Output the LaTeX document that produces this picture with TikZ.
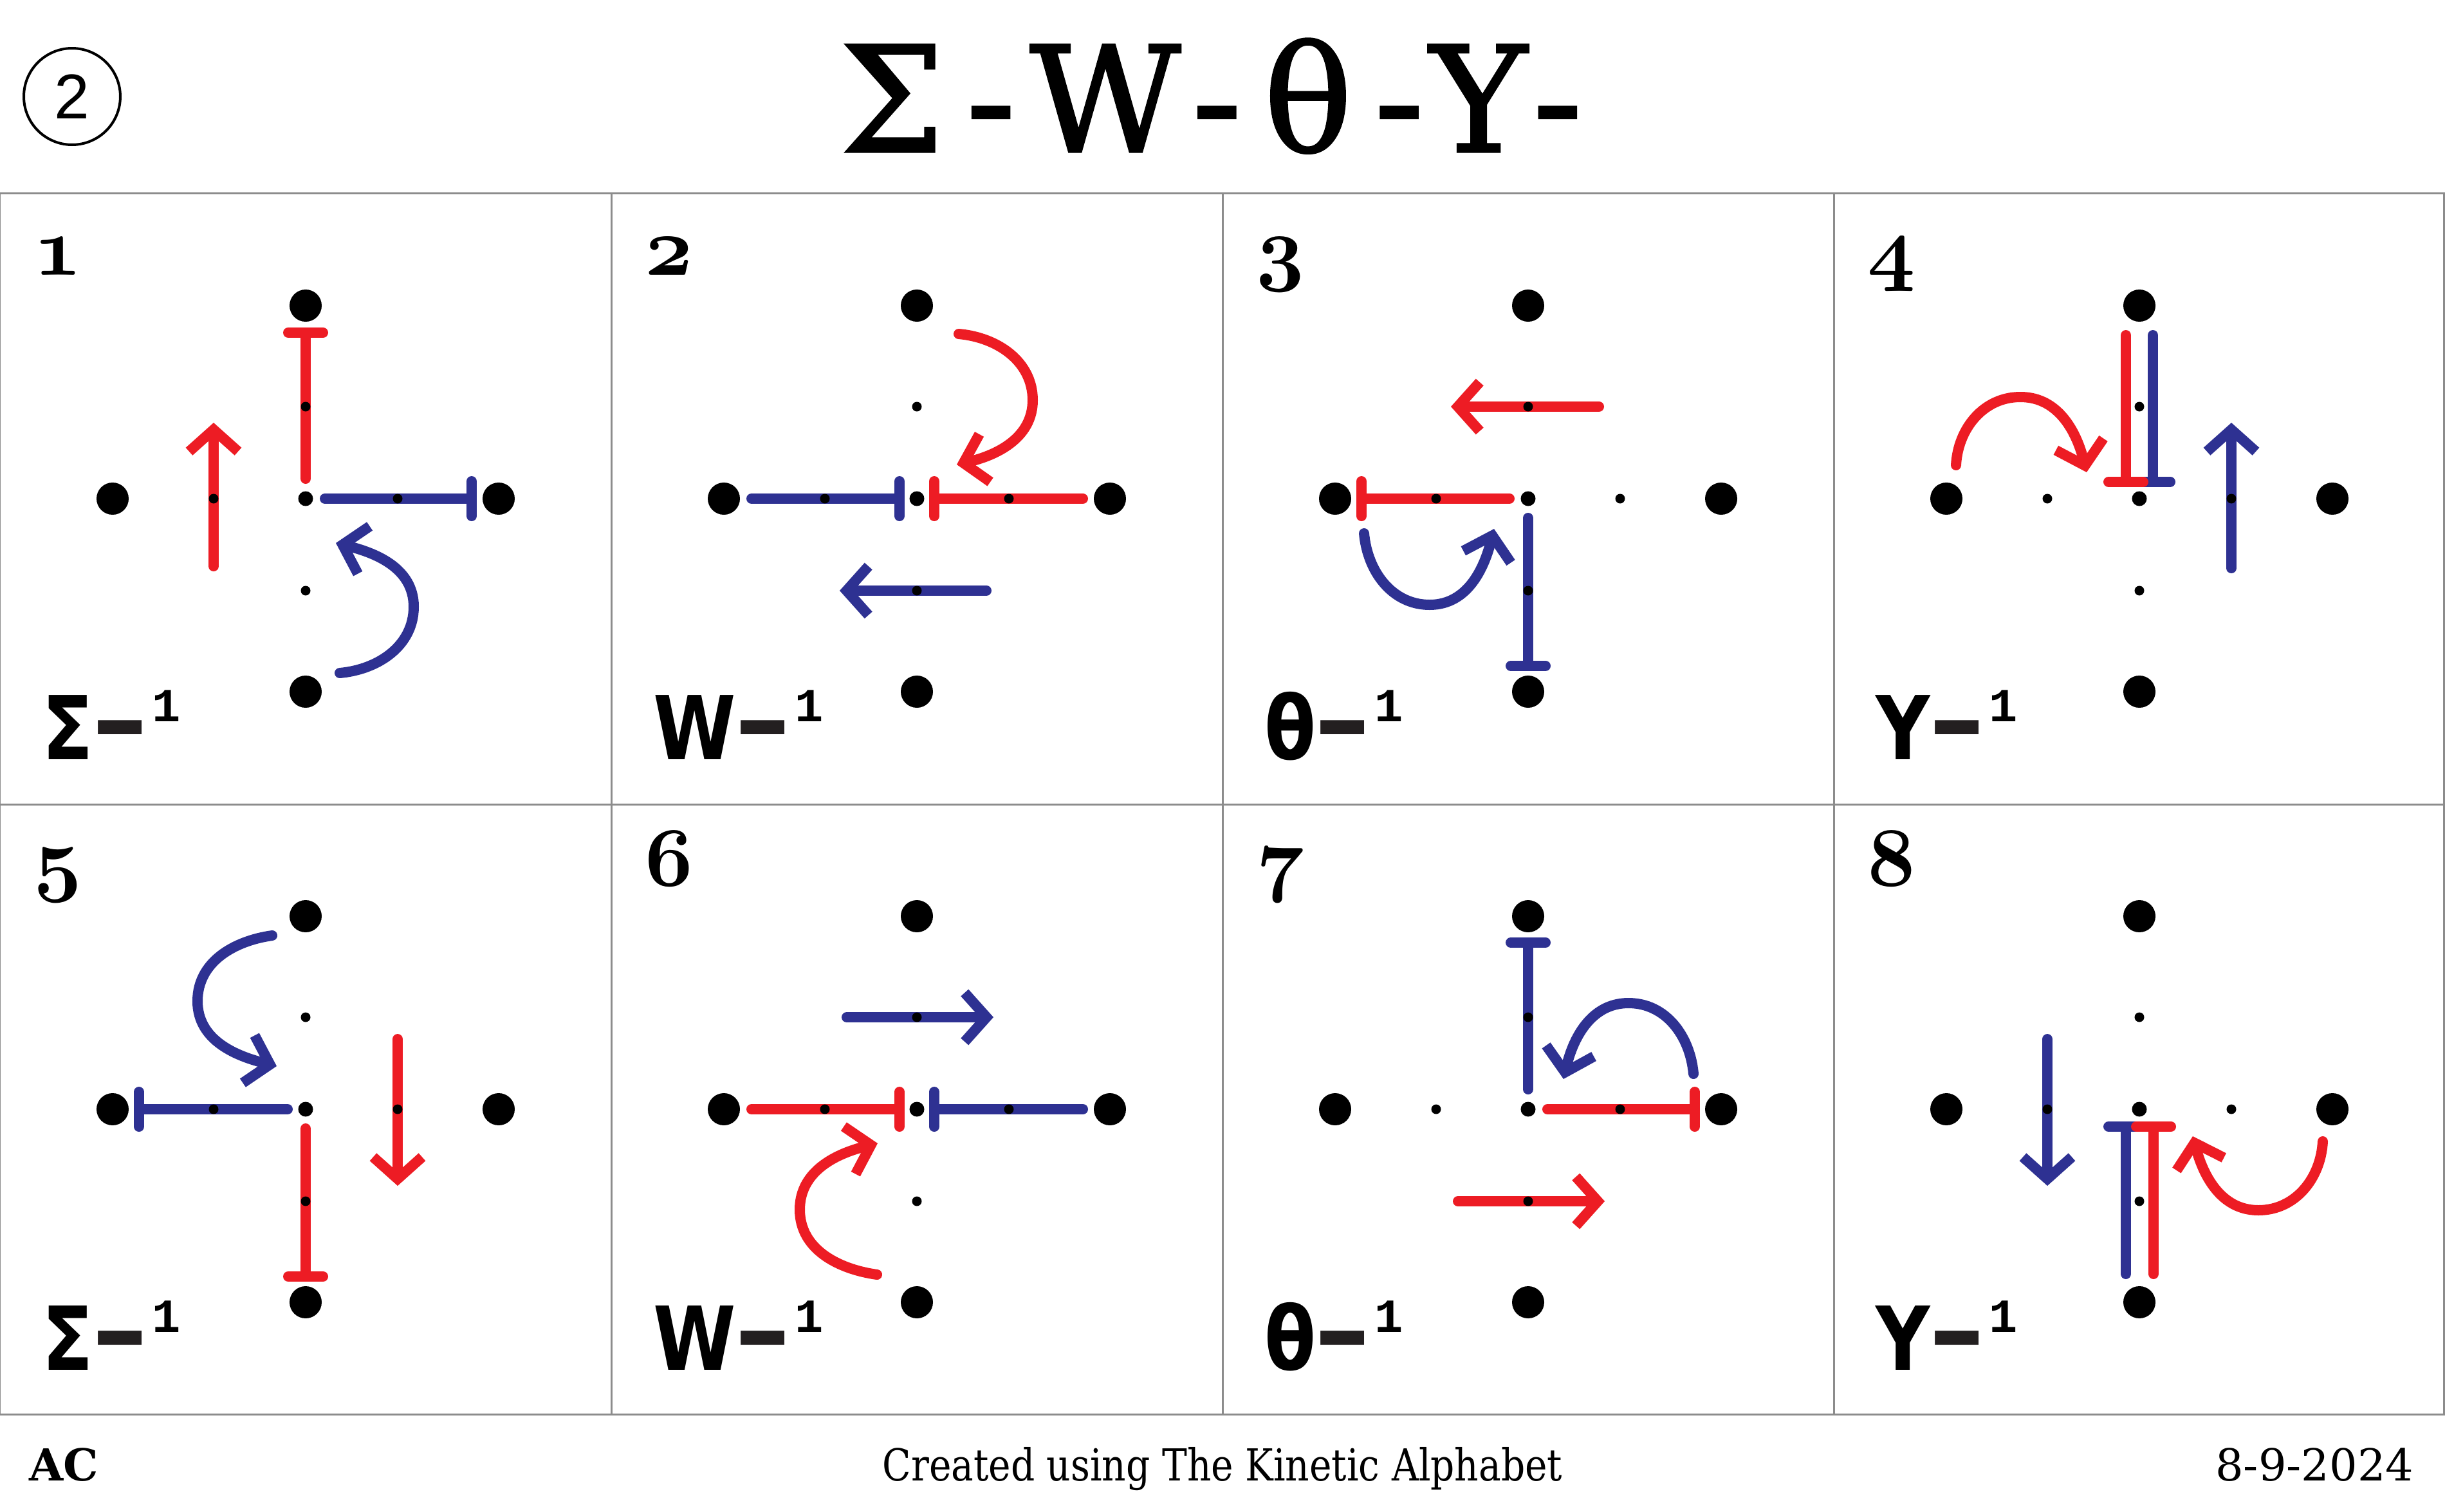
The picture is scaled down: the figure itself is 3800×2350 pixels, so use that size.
\RequirePackage{fix-cm}
\documentclass[tikz,border=0pt]{standalone}
\usepackage{fontspec}
\usetikzlibrary{arrows.meta}
\newfontfamily\titlefont{DejaVu Serif}[LetterSpace=15, FakeBold=1.5]
\newfontfamily\footfont{DejaVu Serif}
\newfontfamily\creditfont{DejaVu Serif}[FakeStretch=0.85]
\newfontfamily\glyphfont{DejaVu Sans}[FakeStretch=0.85]
\newfontfamily\dashfont{Liberation Sans}
\newfontfamily\ringfont{Liberation Sans}
\newfontfamily\expfont{Liberation Mono}
\definecolor{kred}{HTML}{ED1C24}
\definecolor{kblue}{HTML}{2E3192}
\definecolor{dashgray}{HTML}{231F20}
\definecolor{gridgray}{HTML}{8C8C8C}
\newcommand{\invlabel}[1]{{\glyphfont\bfseries\fontsize{39}{39}\selectfont #1}\kern0.3mm\raisebox{-0.9mm}{\scalebox{1}[1.6]{\dashfont\bfseries\fontsize{39}{39}\selectfont\textcolor{dashgray}{–}}}\kern1.2mm\raisebox{5.9mm}{\expfont\bfseries\fontsize{21}{21}\selectfont 1}}
\newcommand{\panelnum}[1]{{\fontsize{37}{37}\selectfont\boldmath$\mathnormal{#1}$}}
\newcommand{\dotgrid}[1]{%
  \node[bigdot] (#1-n) at (0,300) {};
  \node[bigdot] (#1-s) at (0,-300) {};
  \node[bigdot] (#1-e) at (300,0) {};
  \node[bigdot] (#1-w) at (-300,0) {};
  \node[ctrdot] (#1-c) at (0,0) {};
  \node[middot] (#1-nm) at (0,143) {};
  \node[middot] (#1-sm) at (0,-143) {};
  \node[middot] (#1-em) at (143,0) {};
  \node[middot] (#1-wm) at (-143,0) {};
}
\tikzset{
  bigdot/.style={circle, fill=black, inner sep=0pt, minimum size=5mm},
  ctrdot/.style={circle, fill=black, inner sep=0pt, minimum size=2.3mm},
  middot/.style={circle, fill=black, inner sep=0pt, minimum size=1.5mm},
  stroke/.style={line width=1.6mm, line cap=round},
  redpath/.style={stroke, draw=kred},
  bluepath/.style={stroke, draw=kblue},
  teeend/.style={-{Bar[width=5.4mm, round]}},
  headed/.style={-{Straight Barb[length=3.4mm, width=7.6mm]}},
  gridline/.style={draw=gridgray, line width=0.3mm},
  lbl/.style={anchor=base west, inner sep=0pt},
}

\begin{document}
\begin{tikzpicture}[x=0.1mm, y=0.1mm]
\fill[white] (0,0) rectangle (3800,-2350);
\useasboundingbox (0,0) rectangle (3800,-2350);

% title row
\node[circle, draw, line width=0.4mm, minimum size=15mm, inner sep=0pt] (ring) at (112,-150)
  {\ringfont\fontsize{28}{28}\selectfont 2};
\node[lbl] (title) at (1305,-236) {\titlefont\fontsize{65}{65}\selectfont Σ-W-θ-Y-};

% grid
\draw[gridline] (0,-300) rectangle (3798,-2198);
\foreach \x in {950,1900,2850} \draw[gridline] (\x,-300) -- (\x,-2198);
\draw[gridline] (0,-1250) -- (3798,-1250);

% 1
\begin{scope}[shift={(475,-775)}]
  \draw[redpath, teeend] (0,31) -- (0,266);
  \draw[bluepath, teeend] (30,0) -- (266,0);
  \draw[redpath, headed] (-143,-105) -- (-143,118);
  \draw[bluepath, headed] (53,-271) to[out=5,in=-90] (168,-168) to[out=90,in=-14] (47,-69);
  \dotgrid{p1}
\end{scope}
% 2
\begin{scope}[shift={(1425,-775)}]
  \draw[bluepath, teeend] (-257,0) -- (-19,0);
  \draw[redpath, teeend] (258,0) -- (19,0);
  \draw[bluepath, headed] (108,-143) -- (-120,-143);
  \draw[redpath, headed] (65,256) to[out=-5,in=90] (180,153) to[out=-90,in=13] (62,53);
  \dotgrid{p2}
\end{scope}
% 3
\begin{scope}[shift={(2375,-775)}]
  \draw[redpath, headed] (110,143) -- (-120,143);
  \draw[redpath, teeend] (-29,0) -- (-267,0);
  \draw[bluepath, teeend] (0,-30) -- (0,-268);
  \draw[bluepath, headed] (-255,-54) to[out=-85,in=180] (-153,-165) to[out=0,in=-104] (-53,-47);
  \dotgrid{p3}
\end{scope}
% 4
\begin{scope}[shift={(3325,-775)}]
  \draw[bluepath, teeend] (21,254) -- (21,18);
  \draw[redpath, teeend] (-21,254) -- (-21,18);
  \draw[bluepath, headed] (143,-108) -- (143,118);
  \draw[redpath, headed] (-285,52) to[out=87,in=180] (-185,158) to[out=0,in=104] (-82,41);
  \dotgrid{p4}
\end{scope}
% 5
\begin{scope}[shift={(475,-1724)}]
  \draw[bluepath, teeend] (-28,0) -- (-267,0);
  \draw[redpath, teeend] (0,-30) -- (0,-268);
  \draw[redpath, headed] (143,109) -- (143,-119);
  \draw[bluepath, headed] (-52,270) to[out=188,in=90] (-168,168) to[out=-90,in=166] (-45,67);
  \dotgrid{p5}
\end{scope}
% 6
\begin{scope}[shift={(1425,-1724)}]
  \draw[redpath, teeend] (-257,0) -- (-19,0);
  \draw[bluepath, teeend] (258,0) -- (19,0);
  \draw[bluepath, headed] (-109,143) -- (119,143);
  \draw[redpath, headed] (-62,-257) to[out=172,in=-90] (-182,-156) to[out=90,in=-166] (-61,-53);
  \dotgrid{p6}
\end{scope}
% 7
\begin{scope}[shift={(2375,-1724)}]
  \draw[bluepath, teeend] (0,31) -- (0,267);
  \draw[redpath, teeend] (30,0) -- (267,0);
  \draw[redpath, headed] (-109,-143) -- (119,-143);
  \draw[bluepath, headed] (257,55) to[out=95,in=0] (156,165) to[out=180,in=77] (55,47);
  \dotgrid{p7}
\end{scope}
% 8
\begin{scope}[shift={(3325,-1724)}]
  \draw[bluepath, teeend] (-21,-256) -- (-21,-19);
  \draw[redpath, teeend] (22,-256) -- (22,-19);
  \draw[bluepath, headed] (-143,109) -- (-143,-119);
  \draw[redpath, headed] (285,-50) to[out=-93,in=0] (185,-157) to[out=180,in=-75] (83,-42);
  \dotgrid{p8}
\end{scope}

% numbers and labels
\foreach \k/\c/\r/\g in {1/0/0/Σ, 2/1/0/W, 3/2/0/θ, 4/3/0/Y, 5/0/1/Σ, 6/1/1/W, 7/2/1/θ, 8/3/1/Y} {
  \node[lbl] (num\k) at ({52+950*\c},{-427-949*\r}) {\panelnum{\k}};
  \node[lbl] (inv\k) at ({65+950*\c},{-1180-949*\r}) {\invlabel{\g}};
}

% footer
\node[lbl] (author) at (45,-2301) {\footfont\bfseries\fontsize{19.5}{19.5}\selectfont AC};
\node[anchor=base, inner sep=0pt] (credit) at (1900,-2301) {\creditfont\fontsize{19.5}{19.5}\selectfont Created using The Kinetic Alphabet};
\node[anchor=base east, inner sep=0pt] (date) at (3752,-2301) {\footfont\fontsize{19.5}{19.5}\selectfont 8-9-2024};
\end{tikzpicture}
\end{document}
